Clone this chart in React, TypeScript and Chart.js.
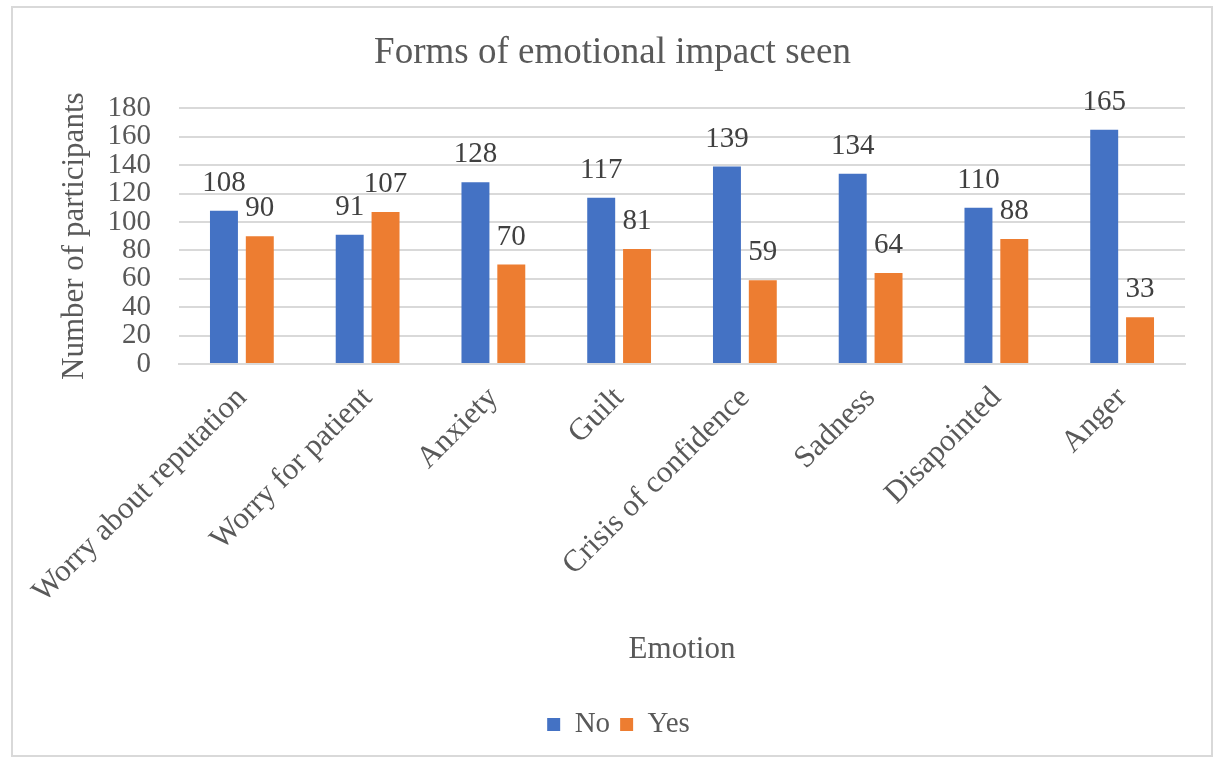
import React, { useEffect, useRef } from "react";
import { Chart, registerables } from "chart.js";

Chart.register(...registerables);

const categories = [
  "Worry about reputation",
  "Worry for patient",
  "Anxiety",
  "Guilt",
  "Crisis of confidence",
  "Sadness",
  "Disapointed",
  "Anger",
];
const noValues = [108, 91, 128, 117, 139, 134, 110, 165];
const yesValues = [90, 107, 70, 81, 59, 64, 88, 33];

const FONT = "'Liberation Serif', 'Times New Roman', serif";
const TEXT = "#595959";

// Value labels above each bar
const barValueLabels = {
  id: "barValueLabels",
  afterDatasetsDraw(chart: any) {
    const { ctx } = chart;
    ctx.save();
    ctx.font = `29px ${FONT}`;
    ctx.fillStyle = "#404040";
    ctx.textAlign = "center";
    ctx.textBaseline = "alphabetic";
    chart.data.datasets.forEach((ds: any, i: number) => {
      const meta = chart.getDatasetMeta(i);
      meta.data.forEach((bar: any, j: number) => {
        ctx.fillText(String(ds.data[j]), bar.x, bar.y - 20);
      });
    });
    ctx.restore();
  },
};

// Centre the title and legend on the framed chart rather than the padded area
const shiftHeaderFooter = {
  id: "shiftHeaderFooter",
  afterLayout(chart: any) {
    if (chart.titleBlock) {
      chart.titleBlock.left += 20;
      chart.titleBlock.right += 20;
    }
    if (chart.legend) {
      chart.legend.left += 26;
      chart.legend.right += 26;
    }
  },
};

export default function App() {
  const ref = useRef<HTMLCanvasElement>(null);

  useEffect(() => {
    if (!ref.current) return;
    const chart = new Chart(ref.current, {
      type: "bar",
      data: {
        labels: categories,
        datasets: [
          {
            label: "No",
            data: noValues,
            backgroundColor: "#4472C4",
            categoryPercentage: 0.57,
            barPercentage: 0.78,
          },
          {
            label: "Yes",
            data: yesValues,
            backgroundColor: "#ED7D31",
            categoryPercentage: 0.57,
            barPercentage: 0.78,
          },
        ],
      },
      options: {
        responsive: false,
        animation: false,
        layout: { padding: { top: 0, right: 32, bottom: 12, left: 0 } },
        plugins: {
          title: {
            display: true,
            text: "Forms of emotional impact seen",
            color: TEXT,
            font: { family: FONT, size: 37, weight: "normal" },
            padding: { top: 31, bottom: 33 },
          },
          legend: {
            position: "bottom",
            labels: {
              color: TEXT,
              font: { family: FONT, size: 29 },
              boxWidth: 13,
              boxHeight: 13,
              padding: 10,
            },
          },
          tooltip: { enabled: false },
        },
        scales: {
          x: {
            grid: { display: false, drawTicks: false },
            border: { color: "#d9d9d9", width: 2 },
            ticks: {
              color: TEXT,
              font: { family: FONT, size: 31 },
              minRotation: 45,
              maxRotation: 45,
              padding: 16,
              autoSkip: false,
            },
            title: {
              display: true,
              text: "Emotion",
              color: TEXT,
              font: { family: FONT, size: 31 },
              padding: { top: 0, bottom: 32 },
            },
            afterFit(scale: any) {
              scale.height = 336;
            },
          },
          y: {
            min: 0,
            max: 180,
            ticks: {
              stepSize: 20,
              autoSkip: false,
              color: TEXT,
              font: { family: FONT, size: 29 },
              padding: 28,
            },
            grid: { color: "#d9d9d9", lineWidth: 2, drawTicks: false },
            border: { display: false },
            title: {
              display: true,
              text: "Number of participants",
              color: TEXT,
              font: { family: FONT, size: 31 },
              padding: { top: 56, bottom: 0 },
            },
            afterFit(scale: any) {
              scale.width = 179;
            },
          },
        },
      },
      plugins: [barValueLabels, shiftHeaderFooter],
    });
    return () => chart.destroy();
  }, []);

  return (
    <div
      style={{
        position: "fixed",
        left: 0,
        top: 0,
        width: 1217,
        height: 761,
        background: "#ffffff",
      }}
    >
      <canvas ref={ref} width={1217} height={761} style={{ display: "block" }} />
      <div
        style={{
          position: "absolute",
          left: 11,
          top: 6,
          width: 1202,
          height: 751,
          border: "2px solid #d9d9d9",
          boxSizing: "border-box",
          pointerEvents: "none",
        }}
      />
    </div>
  );
}
